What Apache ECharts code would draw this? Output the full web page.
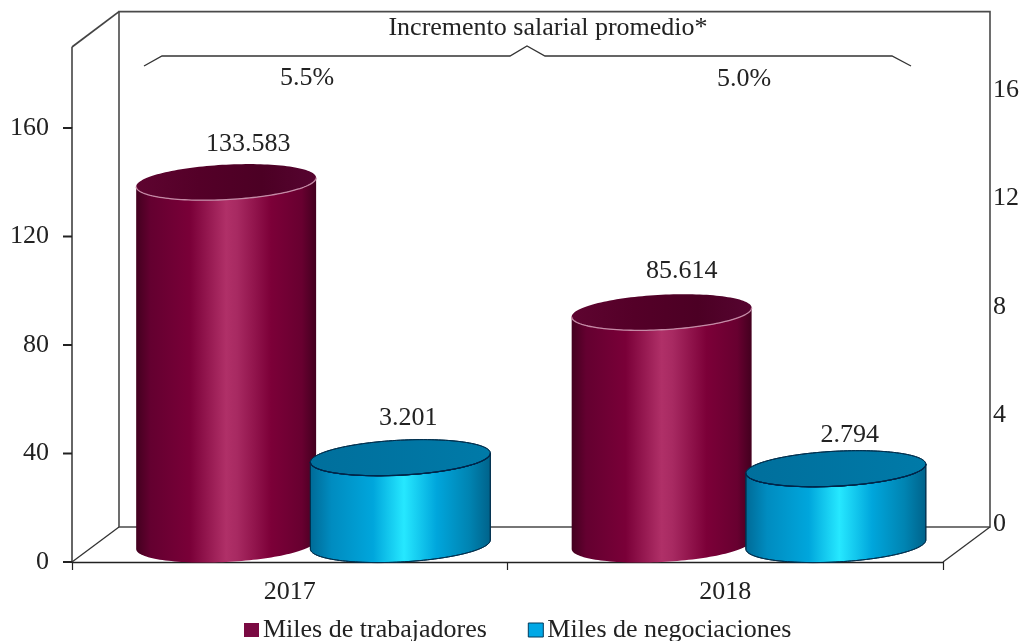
<!DOCTYPE html>
<html><head><meta charset="utf-8">
<style>html,body{margin:0;padding:0;background:#fff}#c{width:1023px;height:641px}</style>
<script src="https://cdn.jsdelivr.net/npm/echarts@6/dist/echarts.min.js"></script>
</head><body><div id="c"></div>
<script>
const categories = ['2017', '2018'];
const workers = [133.583, 85.614];
const negotiations = [3.201, 2.794];
const leftTicks = [0, 40, 80, 120, 160];
const rightTicks = [0, 4, 8, 12, 16];
const increments = ['5.5%', '5.0%'];
const annotationTitle = 'Incremento salarial promedio*';
const seriesNames = ['Miles de trabajadores', 'Miles de negociaciones'];

const FONT = '"Liberation Serif","Times New Roman",serif';
const SIZE = 26;
const TXT = '#222';
const stops = a => a.map(([offset, color]) => ({offset, color}));
const grad = a => ({type:'linear', x:0, y:0, x2:1, y2:0, colorStops:stops(a)});

const skins = {
  maroon: {
    body: grad([[0,'#43001f'],[0.08,'#640030'],[0.3,'#7a0038'],[0.5,'#b03068'],[0.56,'#a82a62'],[0.75,'#7c0038'],[0.92,'#680030'],[1,'#43001f']]),
    top: grad([[0,'#5e0430'],[0.35,'#540028'],[0.7,'#4c0024'],[1,'#560430']]),
    rim: '#c58aa6', edge: '#7a1f4c', edgeWidth: 0
  },
  blue: {
    body: grad([[0,'#006a96'],[0.12,'#008cc0'],[0.35,'#00a6dc'],[0.52,'#26e8ff'],[0.7,'#00a6dc'],[0.88,'#0084b2'],[1,'#00628a']]),
    top: grad([[0,'#006f9c'],[1,'#007aa8']]),
    rim: '#00254a', edge: '#00304f', edgeWidth: 1
  }
};

// cylinder sits halfway through the chart's depth
function cylinder(skin, side, dx, dy, nudge) {
  return function (params, api) {
    const i = api.value(0);
    const v = api.value(1);
    const top = api.coord([i, v]);
    const base = api.coord([i, 0]);
    const band = api.size([1, 0])[0];
    const cx = top[0] + dx + side * band * 0.2;
    const rx = band * 0.2066, ry = 17.5, tilt = 4.5;
    const yTop = top[1] + dy, yBase = base[1] + dy;
    const pt = (t, cy) => [cx + rx * Math.cos(t), cy + ry * Math.sin(t) - tilt * Math.cos(t)];
    const N = 72, ring = [], front = [], back = [];
    for (let k = 0; k <= N; k++) {
      const t = Math.PI * k / N;
      front.push(pt(t, yTop));               // right → left along the near side of the lid
      back.push(pt(t, yBase));
    }
    for (let k = 0; k < 2 * N; k++) ring.push(pt(Math.PI * k / N, yTop));
    const bodyPts = back.slice().concat(front.slice().reverse());
    const n = nudge[i];
    return {type:'group', children:[
      {type:'polygon', shape:{points:bodyPts}, style:{fill:skin.body, stroke:skin.edge, lineWidth:skin.edgeWidth}},
      {type:'polygon', shape:{points:ring}, style:{fill:skin.top, stroke:skin.edgeWidth ? skin.edge : 'rgba(0,0,0,0)', lineWidth:skin.edgeWidth}},
      {type:'polyline', shape:{points:front}, style:{fill:null, stroke:skin.rim, lineWidth:1.3}},
      {type:'text', x:cx + n[0], y:yTop + n[1], style:{text:v.toFixed(3), font:SIZE+'px '+FONT, fill:TXT, align:'center', verticalAlign:'middle'}}
    ]};
  };
}

const gridFront = {left:72, right:80, top:128, bottom:79, show:false};
const gridBack = {left:119, right:33, top:11.6, bottom:114, show:true, borderColor:'#4a4a4a', borderWidth:1.6};
const line = (x1,y1,x2,y2,c,w) => ({type:'line', z:1, silent:true, shape:{x1,y1,x2,y2}, style:{stroke:c||'#333', lineWidth:w||1.5}});
const label = (text,x,y) => ({type:'text', z:5, silent:true, x, y, style:{text, font:SIZE+'px '+FONT, fill:TXT, align:'center', verticalAlign:'middle'}});

const frame = [
  line(72,128,72,47,'#444',1.6),
  line(72,47,119,11.6,'#444',1.8),
  line(72,562,119,527,'#333',1.3),
  line(943,562,990,527,'#333',1.3),
  {type:'polyline', z:2, silent:true, shape:{points:[[144,66],[162,56],[510,56],[527,46],[545,56],[892,56],[911,66]]}, style:{fill:null, stroke:'#333', lineWidth:1.3}},
  label(annotationTitle,548,28),
  label(increments[0],307,78),
  label(increments[1],744,79)
];

const option = {
  animation:false,
  backgroundColor:'#fff',
  textStyle:{fontFamily:FONT},
  grid:[gridFront, gridBack],
  xAxis:[
    {type:'category', gridIndex:0, data:categories,
     axisLine:{show:true, lineStyle:{color:'#222', width:1.4}},
     axisTick:{show:true, inside:false, alignWithLabel:false, length:8, lineStyle:{color:'#222', width:1.2}},
     axisLabel:{fontFamily:FONT, fontSize:SIZE, color:TXT, margin:17}},
    {type:'category', gridIndex:1, data:categories, show:false}
  ],
  yAxis:[
    {type:'value', gridIndex:0, min:0, max:160, interval:40,
     splitLine:{show:false},
     axisLine:{show:true, lineStyle:{color:'#333', width:1.5}},
     axisTick:{show:false},
     axisLabel:{fontFamily:FONT, fontSize:SIZE, color:TXT, margin:23}},
    {type:'value', gridIndex:1, position:'right', min:0, max:19,
     splitLine:{show:false},
     axisLine:{show:false}, axisTick:{show:false},
     axisLabel:{fontFamily:FONT, fontSize:SIZE, color:TXT, margin:3, customValues:rightTicks, verticalAlign:'bottom', lineHeight:6}}
  ],
  legend:{
    left:239, top:612, itemWidth:15, itemHeight:14, itemGap:41, icon:'rect',
    textStyle:{fontFamily:FONT, fontSize:SIZE, color:TXT, padding:[0,0,0,-1]},
    data:[
      {name:seriesNames[0], itemStyle:{color:'#7a0a42', borderWidth:0}},
      {name:seriesNames[1], itemStyle:{color:'#00a8e6', borderColor:'#003a5c', borderWidth:1}}
    ]
  },
  series:[
    {name:seriesNames[0], type:'custom', xAxisIndex:0, yAxisIndex:0, z:3, clip:false,
     itemStyle:{color:'#7a0a42'},
     encode:{x:0, y:1}, data:workers.map((v,i)=>[i,v]),
     renderItem:cylinder(skins.maroon, -1, 23.5, -17.5, [[22,-38],[20,-41]])},
    {name:seriesNames[1], type:'custom', xAxisIndex:1, yAxisIndex:1, z:4, clip:false,
     itemStyle:{color:'#00a8e6'},
     encode:{x:0, y:1}, data:negotiations.map((v,i)=>[i,v]),
     renderItem:cylinder(skins.blue, 1, -23.5, 17.5, [[8,-39],[14,-34]])}
  ],
  graphic:{elements:frame}
};
const chart = echarts.init(document.getElementById('c'), null, {renderer:'canvas'});
chart.setOption(option);
// left-axis tick marks, placed through the axis scale
const tickEls = leftTicks.map(v => {
  const y = chart.convertToPixel({yAxisIndex:0}, v);
  return {type:'rect', z:10, silent:true, shape:{x:63, y:y - 1, width:9, height:2}, style:{fill:'#222'}};
});
chart.setOption({graphic:{elements:frame.concat(tickEls)}});
</script></body></html>
